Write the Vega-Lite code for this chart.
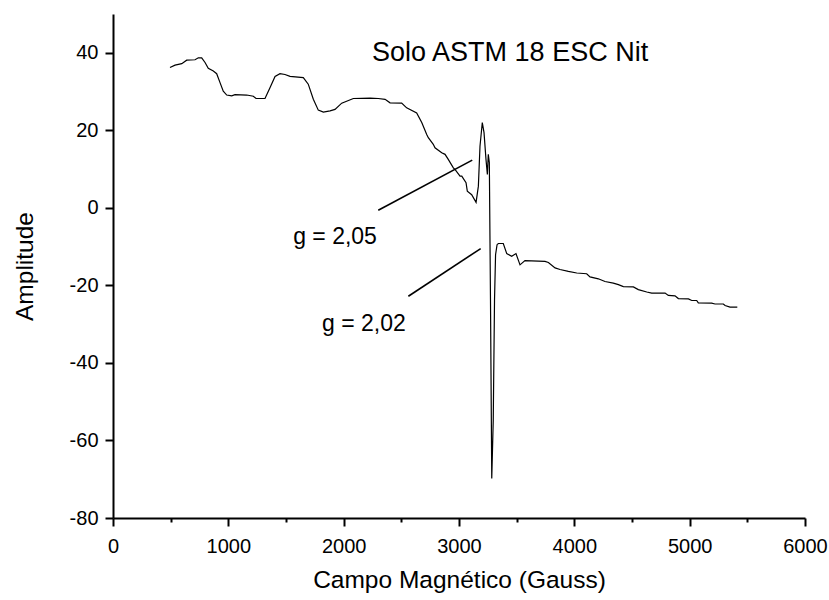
{
  "$schema": "https://vega.github.io/schema/vega-lite/v6.json",
  "width": 692,
  "height": 504,
  "autosize": "none",
  "padding": {"left": 113, "top": 14, "right": 24, "bottom": 82},
  "background": "white",
  "config": {
    "view": {"stroke": null},
    "font": "Liberation Sans",
    "axis": {
      "grid": false,
      "domainColor": "black",
      "domainWidth": 2,
      "tickColor": "black",
      "tickWidth": 2,
      "labelColor": "black",
      "labelFont": "Liberation Sans",
      "labelFontSize": 20,
      "titleFont": "Liberation Sans",
      "titleFontSize": 24.5,
      "titleFontWeight": "normal",
      "titleColor": "black"
    }
  },
  "datasets": {
    "spectrum": [
      {"campo": 494, "amplitude": 36.2}, {"campo": 538, "amplitude": 36.8}, {"campo": 596, "amplitude": 37.2},
      {"campo": 639, "amplitude": 38.1}, {"campo": 711, "amplitude": 38.2}, {"campo": 740, "amplitude": 38.7},
      {"campo": 769, "amplitude": 38.7}, {"campo": 798, "amplitude": 37.5}, {"campo": 826, "amplitude": 36.0},
      {"campo": 870, "amplitude": 35.3}, {"campo": 899, "amplitude": 34.6}, {"campo": 928, "amplitude": 32.3},
      {"campo": 956, "amplitude": 30.1}, {"campo": 986, "amplitude": 29.1}, {"campo": 1029, "amplitude": 28.9},
      {"campo": 1058, "amplitude": 29.2}, {"campo": 1159, "amplitude": 29.1}, {"campo": 1217, "amplitude": 28.8},
      {"campo": 1240, "amplitude": 28.2}, {"campo": 1318, "amplitude": 28.2}, {"campo": 1361, "amplitude": 31.0},
      {"campo": 1405, "amplitude": 33.9}, {"campo": 1448, "amplitude": 34.6}, {"campo": 1491, "amplitude": 34.4},
      {"campo": 1535, "amplitude": 33.9}, {"campo": 1650, "amplitude": 33.6}, {"campo": 1693, "amplitude": 31.9},
      {"campo": 1737, "amplitude": 28.0}, {"campo": 1780, "amplitude": 25.2}, {"campo": 1824, "amplitude": 24.7},
      {"campo": 1882, "amplitude": 25.0}, {"campo": 1925, "amplitude": 25.4}, {"campo": 1983, "amplitude": 27.0},
      {"campo": 2084, "amplitude": 28.2}, {"campo": 2230, "amplitude": 28.3}, {"campo": 2300, "amplitude": 28.2},
      {"campo": 2359, "amplitude": 28.0}, {"campo": 2402, "amplitude": 27.1}, {"campo": 2503, "amplitude": 27.0},
      {"campo": 2546, "amplitude": 25.8}, {"campo": 2633, "amplitude": 24.5}, {"campo": 2677, "amplitude": 22.0},
      {"campo": 2720, "amplitude": 18.9}, {"campo": 2734, "amplitude": 18.1}, {"campo": 2777, "amplitude": 16.4},
      {"campo": 2792, "amplitude": 15.5}, {"campo": 2850, "amplitude": 14.2}, {"campo": 2879, "amplitude": 13.8},
      {"campo": 2907, "amplitude": 12.5}, {"campo": 2951, "amplitude": 10.3}, {"campo": 2965, "amplitude": 9.9},
      {"campo": 3009, "amplitude": 8.2}, {"campo": 3024, "amplitude": 8.2}, {"campo": 3061, "amplitude": 6.5},
      {"campo": 3072, "amplitude": 4.3}, {"campo": 3110, "amplitude": 3.4}, {"campo": 3148, "amplitude": 1.4},
      {"campo": 3168, "amplitude": 5.6}, {"campo": 3182, "amplitude": 15.9}, {"campo": 3202, "amplitude": 22.0},
      {"campo": 3217, "amplitude": 19.4}, {"campo": 3234, "amplitude": 12.5}, {"campo": 3246, "amplitude": 8.6},
      {"campo": 3254, "amplitude": 13.8}, {"campo": 3263, "amplitude": 11.7}, {"campo": 3273, "amplitude": -23.7},
      {"campo": 3284, "amplitude": -69.8}, {"campo": 3297, "amplitude": -54.7}, {"campo": 3308, "amplitude": -23.7},
      {"campo": 3317, "amplitude": -12.1}, {"campo": 3330, "amplitude": -9.5}, {"campo": 3341, "amplitude": -9.2},
      {"campo": 3384, "amplitude": -9.2}, {"campo": 3414, "amplitude": -11.8}, {"campo": 3457, "amplitude": -12.5},
      {"campo": 3494, "amplitude": -11.8}, {"campo": 3529, "amplitude": -14.7}, {"campo": 3572, "amplitude": -13.6},
      {"campo": 3746, "amplitude": -13.8}, {"campo": 3775, "amplitude": -14.1}, {"campo": 3833, "amplitude": -15.5},
      {"campo": 3876, "amplitude": -15.9}, {"campo": 3948, "amplitude": -16.4}, {"campo": 4021, "amplitude": -16.8},
      {"campo": 4107, "amplitude": -17.0}, {"campo": 4136, "amplitude": -17.8}, {"campo": 4208, "amplitude": -18.3},
      {"campo": 4266, "amplitude": -19.0}, {"campo": 4338, "amplitude": -19.4}, {"campo": 4382, "amplitude": -19.8},
      {"campo": 4425, "amplitude": -20.3}, {"campo": 4512, "amplitude": -20.4}, {"campo": 4555, "amplitude": -21.1},
      {"campo": 4628, "amplitude": -21.7}, {"campo": 4671, "amplitude": -22.0}, {"campo": 4787, "amplitude": -22.0},
      {"campo": 4815, "amplitude": -22.6}, {"campo": 4873, "amplitude": -22.7}, {"campo": 4902, "amplitude": -23.4},
      {"campo": 4989, "amplitude": -23.5}, {"campo": 5018, "amplitude": -23.9}, {"campo": 5061, "amplitude": -23.9},
      {"campo": 5075, "amplitude": -24.5}, {"campo": 5191, "amplitude": -24.6}, {"campo": 5220, "amplitude": -24.8},
      {"campo": 5292, "amplitude": -24.8}, {"campo": 5307, "amplitude": -25.2}, {"campo": 5350, "amplitude": -25.6},
      {"campo": 5413, "amplitude": -25.6}
    ],
    "pointers": [
      {"sinal": "g205", "campo": 2300, "amplitude": -0.6},
      {"sinal": "g205", "campo": 3115, "amplitude": 12.3},
      {"sinal": "g202", "campo": 2561, "amplitude": -22.8},
      {"sinal": "g202", "campo": 3188, "amplitude": -10.5}
    ],
    "notes": [
      {"texto": "g = 2,05", "campo": 1925, "amplitude": -9.2},
      {"texto": "g = 2,02", "campo": 2176, "amplitude": -31.7}
    ],
    "heading": [
      {"texto": "Solo ASTM 18 ESC Nit", "campo": 2246, "amplitude": 37.8}
    ]
  },
  "layer": [
    {
      "data": {"name": "spectrum"},
      "mark": {"type": "line", "color": "black", "strokeWidth": 1.2},
      "encoding": {
        "x": {
          "field": "campo",
          "type": "quantitative",
          "scale": {"domain": [0, 6000], "nice": false, "zero": false},
          "axis": {
            "title": "Campo Magnético (Gauss)",
            "values": [0, 500, 1000, 1500, 2000, 2500, 3000, 3500, 4000, 4500, 5000, 5500, 6000],
            "labelExpr": "datum.value % 1000 === 0 ? '' + datum.value : ''",
            "tickSize": {"condition": {"test": "datum.value % 1000 === 0", "value": 8}, "value": 4},
            "labelPadding": 10,
            "titlePadding": 12,
            "labelFlush": false,
            "labelOverlap": false
          }
        },
        "y": {
          "field": "amplitude",
          "type": "quantitative",
          "scale": {"domain": [-80, 50], "nice": false, "zero": false},
          "axis": {
            "title": "Amplitude",
            "values": [-80, -70, -60, -50, -40, -30, -20, -10, 0, 10, 20, 30, 40, 50],
            "labelExpr": "datum.value % 20 === 0 ? '' + datum.value : ''",
            "tickSize": {"condition": {"test": "datum.value % 20 === 0", "value": 8}, "value": 4},
            "labelPadding": 7,
            "titlePadding": 32,
            "labelFlush": false,
            "labelOverlap": false
          }
        }
      }
    },
    {
      "data": {"name": "pointers"},
      "mark": {"type": "line", "color": "black", "strokeWidth": 1.6},
      "encoding": {
        "x": {"field": "campo", "type": "quantitative"},
        "y": {"field": "amplitude", "type": "quantitative"},
        "detail": {"field": "sinal"}
      }
    },
    {
      "data": {"name": "notes"},
      "mark": {"type": "text", "color": "black", "font": "Liberation Sans", "fontSize": 23, "align": "center", "baseline": "alphabetic"},
      "encoding": {
        "x": {"field": "campo", "type": "quantitative"},
        "y": {"field": "amplitude", "type": "quantitative"},
        "text": {"field": "texto"}
      }
    },
    {
      "data": {"name": "heading"},
      "mark": {"type": "text", "color": "black", "font": "Liberation Sans", "fontSize": 27, "align": "left", "baseline": "alphabetic"},
      "encoding": {
        "x": {"field": "campo", "type": "quantitative"},
        "y": {"field": "amplitude", "type": "quantitative"},
        "text": {"field": "texto"}
      }
    }
  ]
}
